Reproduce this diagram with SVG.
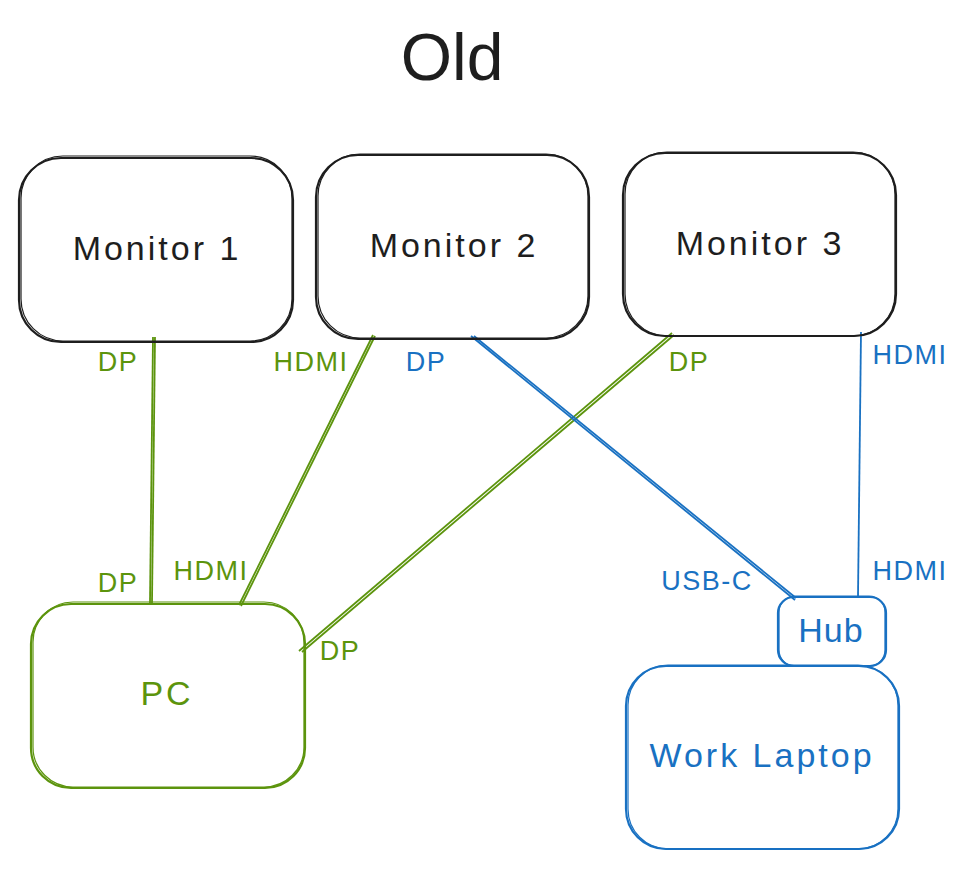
<svg xmlns="http://www.w3.org/2000/svg" width="974" height="869" viewBox="0 0 974 869">
<style>
  text { font-family: "Liberation Sans", "DejaVu Sans", sans-serif; text-anchor: middle; }
  .box { fill: none; stroke-width: 2.2; }
  .box2 { fill: none; stroke-width: 1.2; }
  .k { stroke: #1e1e1e; }
  .g { stroke: #5c940d; }
  .b { stroke: #1971c2; }
  .tk { fill: #1e1e1e; }
  .tg { fill: #5c940d; }
  .tb { fill: #1971c2; }
  .node { font-size: 34px; letter-spacing: 3px; }
  .lbl { font-size: 27px; letter-spacing: 1.5px; }
  .conn line { stroke-width: 1.8; }
</style>
<rect width="974" height="869" fill="#ffffff"/>
<text x="452" y="80" class="tk" style="font-size:66px">Old</text>

<g id="connectors" class="conn">
  <line class="g" x1="153" y1="337" x2="150" y2="603"/>
  <line class="g" x1="155" y1="337" x2="152" y2="603"/>
  <line class="g" x1="373" y1="335" x2="239" y2="605"/>
  <line class="g" x1="375" y1="336" x2="241" y2="606"/>
  <line class="g" x1="672" y1="333" x2="299" y2="651"/>
  <line class="g" x1="674" y1="335" x2="302" y2="652"/>
  <line class="b" x1="471" y1="336" x2="795" y2="600"/>
  <line class="b" x1="474" y1="336" x2="796" y2="598"/>
  <line class="b" x1="861" y1="332" x2="858" y2="597"/>
</g>

<g id="labels">
  <text x="118" y="371" class="tg lbl">DP</text>
  <text x="311" y="371" class="tg lbl">HDMI</text>
  <text x="426" y="371" class="tb lbl">DP</text>
  <text x="689" y="371" class="tg lbl">DP</text>
  <text x="910" y="364" class="tb lbl">HDMI</text>
  <text x="118" y="592" class="tg lbl">DP</text>
  <text x="211" y="580" class="tg lbl">HDMI</text>
  <text x="707" y="590" class="tb lbl">USB-C</text>
  <text x="910" y="580" class="tb lbl">HDMI</text>
  <text x="340" y="660" class="tg lbl">DP</text>
</g>

<g id="monitor1">
  <rect class="box k" x="19" y="158" width="274" height="184" rx="42"/>
  <rect class="box2 k" x="21" y="156" width="271" height="185" rx="42"/>
  <text x="157" y="260" class="tk node">Monitor 1</text>
</g>
<g id="monitor2">
  <rect class="box k" x="316" y="155" width="273" height="184" rx="42"/>
  <rect class="box2 k" x="318" y="154" width="270" height="184" rx="42"/>
  <text x="454" y="257" class="tk node">Monitor 2</text>
</g>
<g id="monitor3">
  <rect class="box k" x="623" y="153" width="273" height="183" rx="42"/>
  <rect class="box2 k" x="625" y="152" width="270" height="184" rx="42"/>
  <text x="760" y="255" class="tk node">Monitor 3</text>
</g>
<g id="pc">
  <rect class="box g" x="31" y="604" width="274" height="184" rx="40"/>
  <rect class="box2 g" x="33" y="602" width="271" height="185" rx="40"/>
  <text x="167" y="705" class="tg node">PC</text>
</g>
<g id="hub">
  <rect class="box b" x="778" y="597" width="108" height="69" rx="16"/>
  <rect class="box2 b" x="779" y="596" width="106" height="70" rx="16"/>
  <text x="831" y="642" class="tb node" style="letter-spacing:1px">Hub</text>
</g>
<g id="laptop">
  <rect class="box b" x="626" y="666" width="273" height="183" rx="40"/>
  <rect class="box2 b" x="628" y="665" width="270" height="184" rx="40"/>
  <text x="762" y="767" class="tb node">Work Laptop</text>
</g>
</svg>
